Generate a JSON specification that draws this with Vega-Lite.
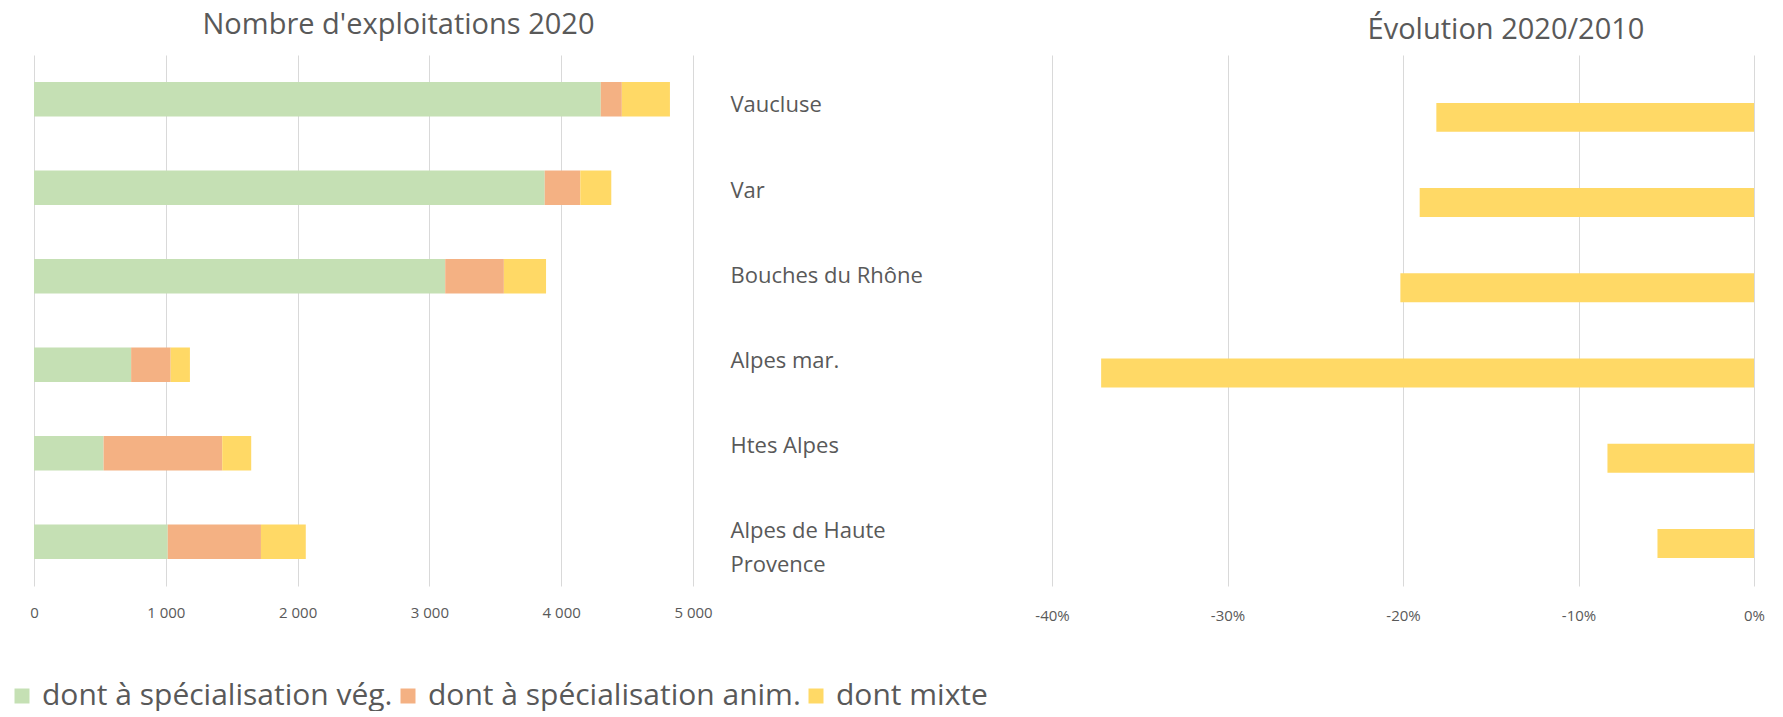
{
  "$schema": "https://vega.github.io/schema/vega-lite/v6.json",
  "padding": {"left": 7, "top": 11, "right": 5, "bottom": 0},
  "background": "white",
  "config": {
    "view": {"stroke": null},
    "font": "Open Sans"
  },
  "datasets": {
    "exploit": [
      {"dep": "Vaucluse", "serie": "dont à spécialisation vég.", "n": 4300},
      {"dep": "Vaucluse", "serie": "dont à spécialisation anim.", "n": 160},
      {"dep": "Vaucluse", "serie": "dont mixte", "n": 365},
      {"dep": "Var", "serie": "dont à spécialisation vég.", "n": 3875},
      {"dep": "Var", "serie": "dont à spécialisation anim.", "n": 270},
      {"dep": "Var", "serie": "dont mixte", "n": 235},
      {"dep": "Bouches du Rhône", "serie": "dont à spécialisation vég.", "n": 3120},
      {"dep": "Bouches du Rhône", "serie": "dont à spécialisation anim.", "n": 445},
      {"dep": "Bouches du Rhône", "serie": "dont mixte", "n": 320},
      {"dep": "Alpes mar.", "serie": "dont à spécialisation vég.", "n": 737},
      {"dep": "Alpes mar.", "serie": "dont à spécialisation anim.", "n": 300},
      {"dep": "Alpes mar.", "serie": "dont mixte", "n": 146},
      {"dep": "Htes Alpes", "serie": "dont à spécialisation vég.", "n": 528},
      {"dep": "Htes Alpes", "serie": "dont à spécialisation anim.", "n": 900},
      {"dep": "Htes Alpes", "serie": "dont mixte", "n": 220},
      {"dep": "Alpes de Haute Provence", "serie": "dont à spécialisation vég.", "n": 1015},
      {"dep": "Alpes de Haute Provence", "serie": "dont à spécialisation anim.", "n": 707},
      {"dep": "Alpes de Haute Provence", "serie": "dont mixte", "n": 340}
    ],
    "evol": [
      {"dep": "Vaucluse", "evol": -18.1},
      {"dep": "Var", "evol": -19.05},
      {"dep": "Bouches du Rhône", "evol": -20.15},
      {"dep": "Alpes mar.", "evol": -37.2},
      {"dep": "Htes Alpes", "evol": -8.35},
      {"dep": "Alpes de Haute Provence", "evol": -5.5}
    ]
  },
  "spacing": 17,
  "align": "none",
  "resolve": {"scale": {"color": "shared"}, "legend": {"color": "shared"}},
  "hconcat": [
    {
      "width": 659,
      "height": 531,
      "title": {"text": "Nombre d'exploitations 2020", "fontSize": 29, "fontWeight": "normal", "color": "#595959", "offset": 15, "frame": "group", "anchor": "middle", "dx": 35},
      "data": {"name": "exploit"},
      "transform": [
        {"calculate": "indexof(['dont à spécialisation vég.', 'dont à spécialisation anim.', 'dont mixte'], datum.serie)", "as": "ordre"}
      ],
      "mark": {"type": "bar"},
      "encoding": {
        "y": {
          "field": "dep", "type": "nominal",
          "sort": ["Vaucluse", "Var", "Bouches du Rhône", "Alpes mar.", "Htes Alpes", "Alpes de Haute Provence"],
          "scale": {"paddingInner": 0.61, "paddingOuter": 0.305},
          "axis": null
        },
        "x": {
          "field": "n", "type": "quantitative", "stack": "zero",
          "scale": {"domain": [0, 5000], "nice": false},
          "axis": {"title": null, "values": [0, 1000, 2000, 3000, 4000, 5000], "labelExpr": "replace(format(datum.value, ','), ',', ' ')", "domain": false, "ticks": false, "tickSize": 0, "grid": true, "gridColor": "#d9d9d9", "gridWidth": 1, "labelPadding": 19, "labelFontSize": 15, "labelColor": "#595959", "labelFlush": false}
        },
        "color": {
          "field": "serie", "type": "nominal",
          "scale": {"domain": ["dont à spécialisation vég.", "dont à spécialisation anim.", "dont mixte"], "range": ["#C5E0B4", "#F4B183", "#FFD966"]},
          "legend": {"title": null, "orient": "none", "legendX": -27, "legendY": 626, "direction": "horizontal", "symbolType": "square", "symbolSize": 225, "symbolStrokeWidth": 0, "symbolOpacity": 1, "labelFontSize": 30, "labelColor": "#595959", "labelOffset": 5, "columnPadding": -8, "labelLimit": 600, "padding": 0}
        },
        "order": {"field": "ordre", "type": "quantitative"}
      }
    },
    {
      "width": 702,
      "height": 531,
      "title": {"text": "Évolution 2020/2010", "fontSize": 29, "fontWeight": "normal", "color": "#595959", "offset": 10, "frame": "group", "anchor": "middle", "dx": 103},
      "data": {"name": "evol"},
      "mark": {"type": "bar", "color": "#FFD966"},
      "encoding": {
        "y": {
          "field": "dep", "type": "nominal",
          "sort": ["Vaucluse", "Var", "Bouches du Rhône", "Alpes mar.", "Htes Alpes", "Alpes de Haute Provence"],
          "scale": {"paddingInner": 0.66, "paddingOuter": 0.446, "align": 0.63},
          "axis": {"title": null, "domain": false, "ticks": false, "tickSize": 0, "labelAlign": "left", "labelBaseline": "middle", "labelPadding": 322, "labelFontSize": 22, "labelColor": "#595959", "labelLimit": 400, "labelOffset": -12, "labelLineHeight": 34, "labelExpr": "datum.label == 'Alpes de Haute Provence' ? ['Alpes de Haute', 'Provence'] : datum.label"}
        },
        "x": {
          "field": "evol", "type": "quantitative",
          "scale": {"domain": [-40, 0], "nice": false},
          "axis": {"title": null, "values": [-40, -30, -20, -10, 0], "labelExpr": "datum.value + '%'", "domain": false, "ticks": false, "tickSize": 0, "grid": true, "gridColor": "#d9d9d9", "gridWidth": 1, "labelPadding": 22, "labelFontSize": 15, "labelColor": "#595959", "labelFlush": false}
        }
      }
    }
  ]
}
